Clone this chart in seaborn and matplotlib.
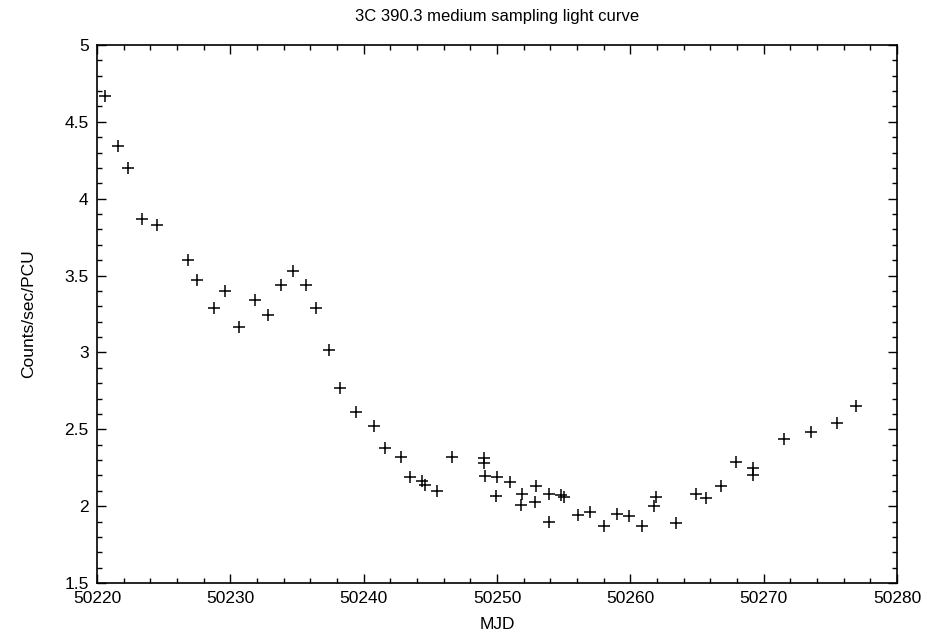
import matplotlib
matplotlib.use("Agg")
import matplotlib.pyplot as plt
import seaborn as sns
import pandas as pd
from matplotlib.ticker import MultipleLocator

mjd = [50220.58, 50221.6, 50222.3, 50223.4, 50224.5, 50226.8, 50227.5, 50228.75,
       50229.6, 50230.65, 50231.85, 50232.8, 50233.8, 50234.7, 50235.65, 50236.4,
       50237.4, 50238.2, 50239.4, 50240.8, 50241.6, 50242.8, 50243.5, 50244.4,
       50244.6, 50245.5, 50246.6, 50249.0, 50249.0, 50249.1, 50250.0, 50249.9,
       50250.95, 50251.9, 50251.8, 50252.9, 50252.85, 50253.9, 50253.9, 50254.8,
       50255.0, 50256.1, 50257.0, 50258.0, 50259.0, 50259.9, 50260.9, 50261.9,
       50261.8, 50263.4, 50264.9, 50265.7, 50266.8, 50267.9, 50269.2, 50269.2,
       50271.55, 50273.55, 50275.5, 50276.9]
rate = [4.67, 4.34, 4.20, 3.866, 3.83, 3.60, 3.47, 3.29,
        3.40, 3.163, 3.34, 3.245, 3.44, 3.53, 3.44, 3.29,
        3.016, 2.77, 2.61, 2.523, 2.378, 2.32, 2.19, 2.165,
        2.14, 2.10, 2.32, 2.31, 2.28, 2.197, 2.19, 2.068,
        2.16, 2.08, 2.01, 2.13, 2.03, 2.08, 1.895, 2.07,
        2.06, 1.945, 1.964, 1.87, 1.95, 1.935, 1.87, 2.057,
        2.00, 1.89, 2.077, 2.05, 2.13, 2.285, 2.245, 2.20,
        2.439, 2.484, 2.539, 2.65]

title = "3C 390.3 medium sampling light curve"
xlabel = "MJD"
ylabel = "Counts/sec/PCU"

df = pd.DataFrame({"MJD": mjd, "rate": rate})

sns.set_style("ticks")
plt.rcParams['font.family'] = ['Liberation Sans', 'DejaVu Sans']
plt.rcParams['font.size'] = 12
plt.rcParams['text.color'] = 'black'
plt.rcParams['axes.labelcolor'] = 'black'

fig = plt.figure(figsize=(9.27, 6.37), dpi=100)
ax = fig.add_axes([97/927, 1 - 583/637, 800/927, 538/637])

sns.scatterplot(data=df, x="MJD", y="rate", marker="+", s=85, color="black",
                linewidth=1.1, ax=ax, legend=False)

ax.set_xlim(50220, 50280)
ax.set_ylim(1.5, 5)
ax.xaxis.set_major_locator(MultipleLocator(10))
ax.xaxis.set_minor_locator(MultipleLocator(2))
ax.yaxis.set_major_locator(MultipleLocator(0.5))
ax.yaxis.set_minor_locator(MultipleLocator(0.1))
ax.xaxis.set_major_formatter(matplotlib.ticker.FuncFormatter(lambda v, p: f"{v:.0f}"))
ax.yaxis.set_major_formatter(matplotlib.ticker.FuncFormatter(lambda v, p: f"{v:g}"))
ax.tick_params(which="both", direction="in", top=True, right=True, colors="black",
               labelsize=12.5, width=1)
ax.tick_params(which="major", length=6.5, pad=6)
ax.tick_params(which="minor", length=3.6)
for sp in ax.spines.values():
    sp.set_visible(True)
    sp.set_color("black")
    sp.set_linewidth(1.2)

ax.set_title(title, fontsize=12, pad=17, color="black")
ax.set_xlabel(xlabel, fontsize=12.5, labelpad=8)
ax.set_ylabel(ylabel, fontsize=12.5, labelpad=20)

fig.savefig("out.png", dpi=100)
